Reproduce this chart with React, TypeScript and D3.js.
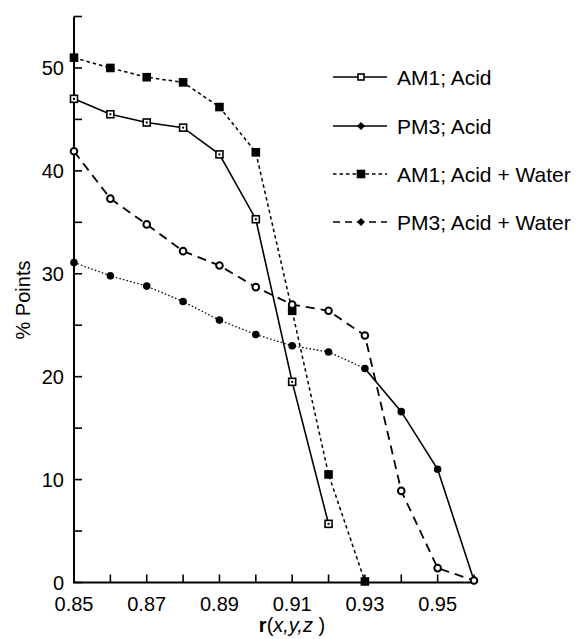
import React from "react";
import * as d3 from "d3";

const xValues = [0.85, 0.86, 0.87, 0.88, 0.89, 0.9, 0.91, 0.92, 0.93, 0.94, 0.95, 0.96];
const am1Acid = [47.0, 45.5, 44.7, 44.2, 41.6, 35.3, 19.5, 5.7];
const pm3Acid = [31.1, 29.8, 28.8, 27.3, 25.5, 24.1, 23.0, 22.4, 20.8, 16.6, 11.0, 0.2];
const am1Water = [51.0, 50.0, 49.1, 48.6, 46.2, 41.8, 26.4, 10.5, 0.1];
const pm3Water = [41.9, 37.3, 34.8, 32.2, 30.8, 28.7, 27.0, 26.4, 24.0, 8.9, 1.4, 0.2];
const xTickLabels = ["0.85", "0.87", "0.89", "0.91", "0.93", "0.95"];
const yTickLabels = ["0", "10", "20", "30", "40", "50"];
const legendLabels = ["AM1; Acid", "PM3; Acid", "AM1; Acid + Water", "PM3; Acid + Water"];

const FONT = "'Liberation Sans', Arial, Helvetica, sans-serif";

export default function App() {
  const x = d3.scaleLinear().domain([0.85, 0.96]).range([74, 474]);
  const y = d3.scaleLinear().domain([0, 55]).range([582.5, 16.5]);
  const line = d3
    .line<[number, number]>()
    .x((d) => x(d[0]))
    .y((d) => y(d[1]));
  const pts = (vals: number[]) => vals.map((v, i) => [xValues[i], v] as [number, number]);

  const pm3Pts = pts(pm3Acid);
  const pm3Dotted = pm3Pts.slice(0, 9);
  const pm3Solid = pm3Pts.slice(8);

  const xTicks = d3.range(0, 12).map((i) => 0.85 + i * 0.01);
  const yTicks = d3.range(0, 56, 5);

  const sq = (cx: number, cy: number, s: number, filled: boolean, key: string) => (
    <rect
      key={key}
      x={cx - s / 2}
      y={cy - s / 2}
      width={s}
      height={s}
      fill={filled ? "#000" : "#fff"}
      stroke="#000"
      strokeWidth={1.6}
    />
  );

  const legendRows = [77, 126, 174, 222];

  return (
    <svg
      width={580}
      height={639}
      style={{ position: "absolute", left: 0, top: 0, background: "#fff" }}
      fontFamily={FONT}
    >
      <rect width={580} height={639} fill="#fff" />
      {/* axes */}
      <line x1={x(0.85)} x2={x(0.85)} y1={y(0)} y2={y(55)} stroke="#000" strokeWidth={2} />
      <line x1={x(0.85) - 1} x2={x(0.96) + 2} y1={y(0)} y2={y(0)} stroke="#000" strokeWidth={2} />
      {yTicks.map((t) => (
        <line key={"yt" + t} x1={x(0.85)} x2={x(0.85) + 8} y1={y(t)} y2={y(t)} stroke="#000" strokeWidth={1.6} />
      ))}
      {xTicks.map((t, i) => (
        <line key={"xt" + i} x1={x(t)} x2={x(t)} y1={y(0)} y2={y(0) - 8} stroke="#000" strokeWidth={1.6} />
      ))}
      {yTickLabels.map((l) => (
        <text key={"yl" + l} x={64} y={y(+l)} dy="0.36em" textAnchor="end" fontSize={20}>
          {l}
        </text>
      ))}
      {xTickLabels.map((l) => (
        <text key={"xl" + l} x={x(+l)} y={611} textAnchor="middle" fontSize={20}>
          {l}
        </text>
      ))}
      <text transform="translate(30,300) rotate(-90)" textAnchor="middle" fontSize={20}>
        % Points
      </text>
      <text x={292} y={632} textAnchor="middle" fontSize={20}>
        <tspan fontWeight="bold">r</tspan>
        <tspan>(</tspan>
        <tspan fontStyle="italic">x,y,z</tspan>
        <tspan> )</tspan>
      </text>

      {/* series lines */}
      <path d={line(pts(am1Water))!} fill="none" stroke="#000" strokeWidth={1.5} strokeDasharray="3.5,3" />
      <path d={line(pts(pm3Water))!} fill="none" stroke="#000" strokeWidth={1.8} strokeDasharray="9,6" />
      <path d={line(pm3Dotted)!} fill="none" stroke="#000" strokeWidth={1.3} strokeDasharray="1.5,2.2" />
      <path d={line(pm3Solid)!} fill="none" stroke="#000" strokeWidth={1.6} />
      <path d={line(pts(am1Acid))!} fill="none" stroke="#000" strokeWidth={1.6} />

      {/* markers */}
      {pts(am1Water).map((p, i) => sq(x(p[0]), y(p[1]), 7, true, "aw" + i))}
      {pts(am1Acid).map((p, i) => (
        <g key={"aa" + i}>
          {sq(x(p[0]), y(p[1]), 7, false, "aas" + i)}
          <rect x={x(p[0]) - 1} y={y(p[1]) - 1} width={2} height={2} fill="#000" />
        </g>
      ))}
      {pm3Pts.map((p, i) => (
        <circle key={"pa" + i} cx={x(p[0])} cy={y(p[1])} r={3.8} fill="#000" />
      ))}
      {pts(pm3Water).map((p, i) => (
        <circle key={"pw" + i} cx={x(p[0])} cy={y(p[1])} r={3.3} fill="#fff" stroke="#000" strokeWidth={2} />
      ))}

      {/* legend */}
      {legendLabels.map((l, i) => {
        const cy = legendRows[i];
        const dash = i === 2 ? "3.5,3" : i === 3 ? "7,5" : undefined;
        return (
          <g key={"lg" + i}>
            <line x1={333} x2={387} y1={cy} y2={cy} stroke="#000" strokeWidth={1.6} strokeDasharray={dash} />
            {i === 0 && sq(361, cy, 6, false, "l0")}
            {i === 2 && sq(361, cy, 7, true, "l2")}
            {(i === 1 || i === 3) && (
              <path d={`M361,${cy - 4}L365,${cy}L361,${cy + 4}L357,${cy}Z`} fill="#000" />
            )}
            <text x={397} y={cy} dy="0.36em" fontSize={21}>
              {l}
            </text>
          </g>
        );
      })}
    </svg>
  );
}
